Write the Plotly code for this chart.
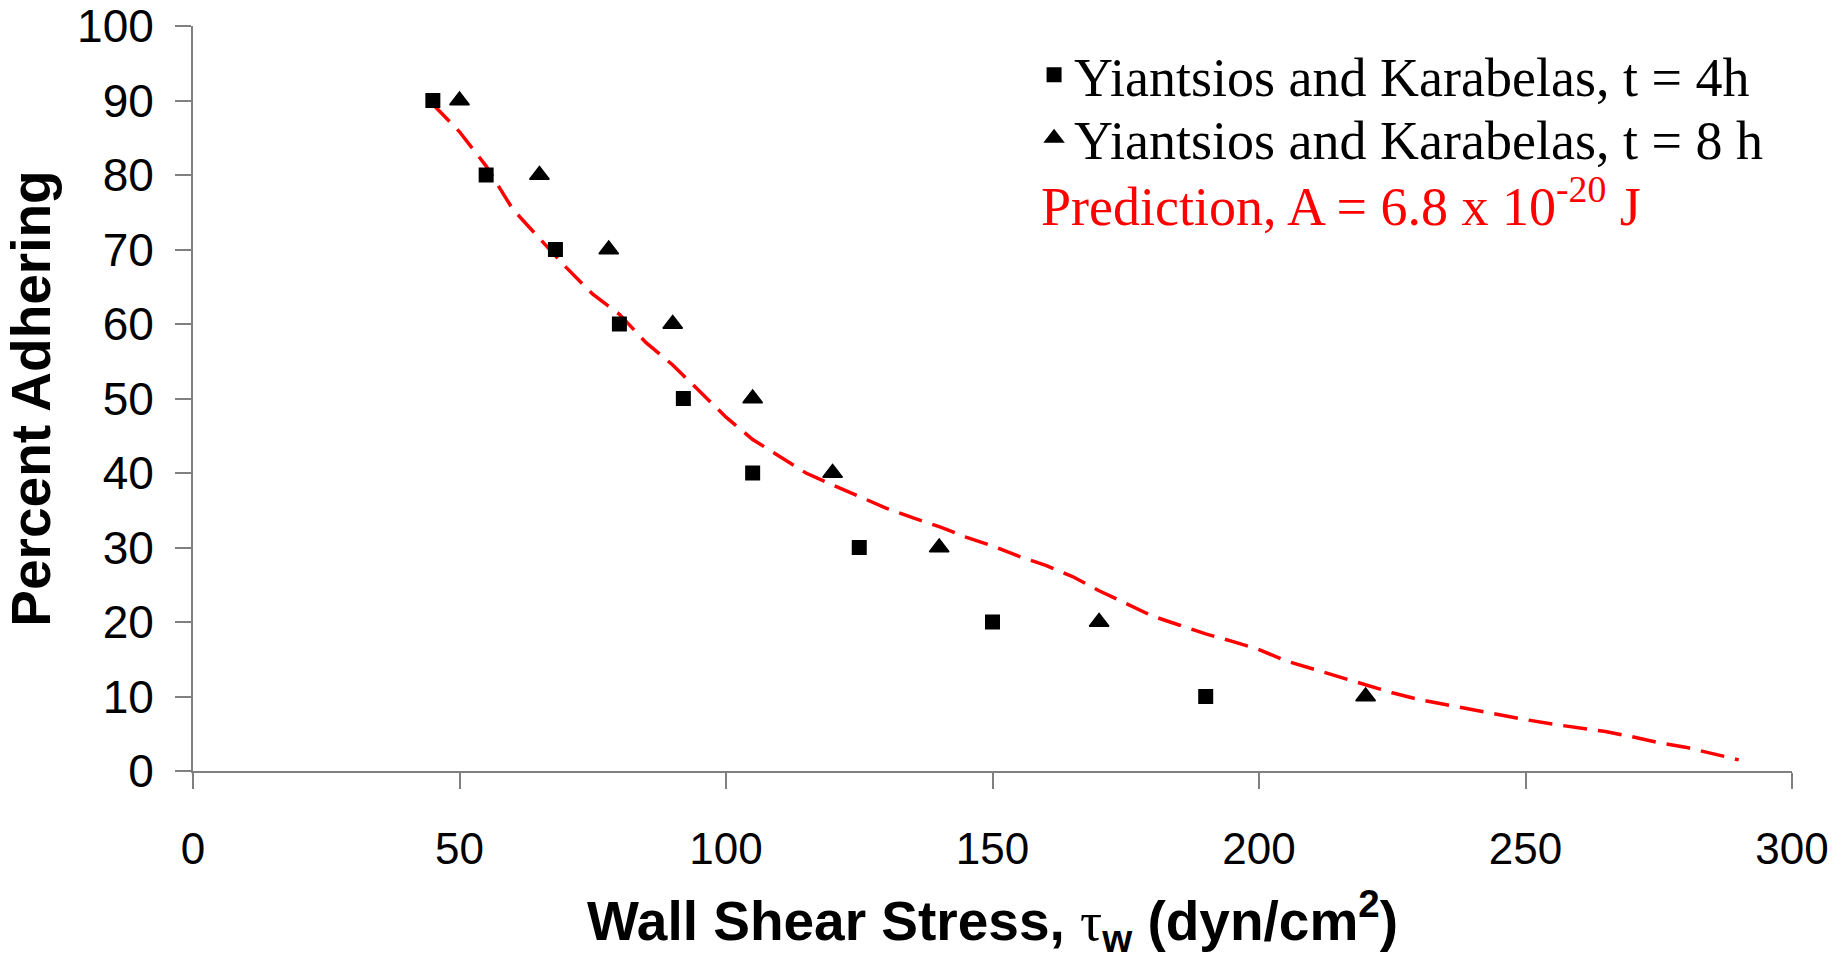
import plotly.graph_objects as go

# Measured adhesion data (Yiantsios and Karabelas)
shear_4h = [45, 55, 68, 80, 92, 105, 125, 150, 190]
adhering_4h = [90, 80, 70, 60, 50, 40, 30, 20, 10]

shear_8h = [50, 65, 78, 90, 105, 120, 140, 170, 220]
adhering_8h = [90, 80, 70, 60, 50, 40, 30, 20, 10]

# Model prediction, A = 6.8e-20 J
shear_pred = [45, 50, 55, 60, 65, 70, 75, 80, 85, 90, 95, 100, 105, 110, 115,
              120, 125, 130, 135, 140, 145, 150, 155, 160, 165, 170, 175, 180,
              185, 190, 195, 200, 205, 210, 215, 220, 225, 230, 235, 240, 245,
              250, 255, 260, 265, 270, 275, 280, 285, 290]
adhering_pred = [89.5, 85.8, 81.2, 75.4, 71.5, 67.6, 64.0, 61.3, 57.5, 54.5,
                 51.0, 47.5, 44.5, 42.2, 40.0, 38.4, 36.8, 35.3, 34.0, 32.8,
                 31.4, 30.2, 28.8, 27.6, 26.1, 24.2, 22.5, 20.8, 19.6, 18.4,
                 17.4, 16.3, 14.8, 13.7, 12.6, 11.5, 10.5, 9.6, 8.9, 8.2,
                 7.5, 6.9, 6.3, 5.8, 5.3, 4.6, 3.8, 3.2, 2.4, 1.5]

x_ticks = [0, 50, 100, 150, 200, 250, 300]
y_ticks = [0, 10, 20, 30, 40, 50, 60, 70, 80, 90, 100]

SANS = "Liberation Sans, Arial, sans-serif"
SERIF = "Liberation Serif, Times New Roman, serif"
AXIS_GREY = "#808080"

fig = go.Figure()

fig.add_trace(go.Scatter(
    x=shear_pred, y=adhering_pred, mode="lines",
    line=dict(color="#ff0000", width=3.5, dash="24px,11px"),
    showlegend=False,
))

fig.add_trace(go.Scatter(
    x=shear_4h, y=adhering_4h, mode="markers",
    name="Yiantsios and Karabelas, t = 4h",
    marker=dict(symbol="square", size=15, color="black"),
    legend="legend",
))

fig.add_trace(go.Scatter(
    x=shear_8h, y=adhering_8h, mode="markers",
    name="Yiantsios and Karabelas, t = 8 h",
    marker=dict(symbol="triangle-up", size=17, color="black",
                line=dict(color="black", width=1.5)),
    legend="legend2",
))

legend_style = dict(
    font=dict(family=SERIF, size=54, color="black"),
    bgcolor="rgba(0,0,0,0)",
    xanchor="left", yanchor="middle",
    itemsizing="trace",
)

fig.update_layout(
    width=1846, height=960,
    margin=dict(l=193, r=54, t=26, b=189, autoexpand=False),
    paper_bgcolor="white", plot_bgcolor="white",
    legend=dict(x=0.526, y=0.934, **legend_style),
    legend2=dict(x=0.526, y=0.849, **legend_style),
    annotations=[dict(
        xref="paper", yref="paper", x=0.529, y=0.763,
        xanchor="left", yanchor="middle", showarrow=False,
        text="Prediction, A = 6.8 x 10<sup>-20</sup> J",
        font=dict(family=SERIF, size=54, color="#ff0000"),
    )],
)

fig.update_xaxes(
    range=[0, 300], tickvals=x_ticks, ticktext=[str(v) for v in x_ticks],
    showgrid=False, zeroline=False,
    showline=True, linecolor=AXIS_GREY, linewidth=2,
    ticks="outside", ticklen=16, tickwidth=2, tickcolor=AXIS_GREY,
    ticklabelstandoff=22, ticklabeloverflow="allow",
    tickfont=dict(family=SANS, size=44, color="black"),
    title=dict(
        text="<b>Wall Shear Stress, <span style=\"font-family:'Liberation Serif';font-weight:normal\">τ</span><sub>w</sub> (dyn/cm<sup>2</sup>)</b>",
        font=dict(family=SANS, size=55, color="black"),
        standoff=35,
    ),
)

fig.update_yaxes(
    range=[0, 100], tickvals=y_ticks, ticktext=[str(v) for v in y_ticks],
    showgrid=False, zeroline=False,
    showline=True, linecolor=AXIS_GREY, linewidth=2,
    ticks="outside", ticklen=16, tickwidth=2, tickcolor=AXIS_GREY,
    ticklabelstandoff=12, ticklabeloverflow="allow",
    tickfont=dict(family=SANS, size=46, color="black"),
    title=dict(
        text="<b>Percent Adhering</b>",
        font=dict(family=SANS, size=55, color="black"),
        standoff=30,
    ),
)

fig.write_html("out.html")
